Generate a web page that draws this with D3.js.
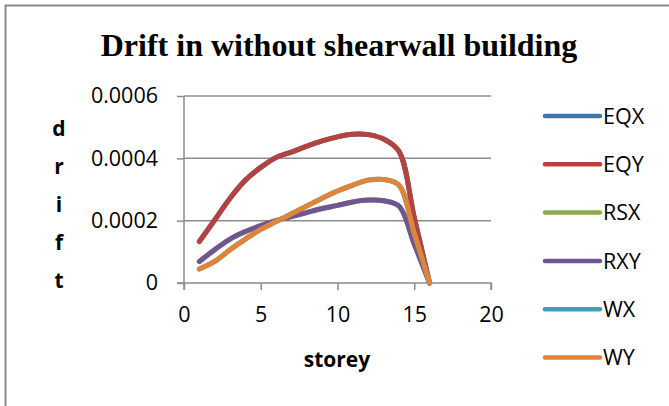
<!DOCTYPE html>
<html>
<head>
<meta charset="utf-8">
<script src="https://cdn.jsdelivr.net/npm/d3@7"></script>
<style>
  body { margin: 0; background: #fff; }
  svg { display: block; }
</style>
</head>
<body>
<svg id="chart" width="669" height="406"></svg>
<script>
// storey numbers (x values)
const storeys = [1, 2, 3, 4, 5, 6, 7, 8, 9, 10, 11, 12, 13, 14, 15, 16];

// drift values
const eqx = [0.000133, 0.000202, 0.000272, 0.00033, 0.000371, 0.000403, 0.00042, 0.000439, 0.000456, 0.000469, 0.000477, 0.000476, 0.000462, 0.000423, 0.00021, 0];
const eqy = [0.000133, 0.000202, 0.000272, 0.00033, 0.000371, 0.000403, 0.00042, 0.000439, 0.000456, 0.000469, 0.000477, 0.000476, 0.000462, 0.000423, 0.00021, 0];
const rsx = [0.000069, 0.000107, 0.000141, 0.000165, 0.000184, 0.0002, 0.000213, 0.000226, 0.000239, 0.000249, 0.00026, 0.000266, 0.000264, 0.000247, 0.000125, 0];
const rxy = [0.000069, 0.000107, 0.000141, 0.000165, 0.000184, 0.0002, 0.000213, 0.000226, 0.000239, 0.000249, 0.00026, 0.000266, 0.000264, 0.000247, 0.000125, 0];
const wx = [0.000045, 0.000069, 0.000107, 0.000141, 0.000172, 0.000197, 0.000222, 0.000247, 0.000272, 0.000295, 0.000314, 0.00033, 0.000332, 0.000314, 0.00016, 0];
const wy = [0.000045, 0.000069, 0.000107, 0.000141, 0.000172, 0.000197, 0.000222, 0.000247, 0.000272, 0.000295, 0.000314, 0.00033, 0.000332, 0.000314, 0.00016, 0];

const seriesNames = ["EQX", "EQY", "RSX", "RXY", "WX", "WY"];
const seriesValues = [eqx, eqy, rsx, rxy, wx, wy];
const seriesColors = ["#4274ad", "#b4433f", "#8ba94f", "#6f5693", "#3f9db5", "#e0843a"];

const xTicks = [0, 5, 10, 15, 20];
const yTicks = [0, 0.0002, 0.0004, 0.0006];

const svg = d3.select("#chart");

// chart frame (right and bottom edges run off the picture)
svg.append("rect")
    .attr("x", 5.5)
    .attr("y", 5.5)
    .attr("width", 700)
    .attr("height", 450)
    .attr("fill", "none")
    .attr("stroke", "#8a8a8a")
    .attr("stroke-width", 2);

const x = d3.scaleLinear().domain([0, 20]).range([184, 491]);
const y = d3.scaleLinear().domain([0, 0.0006]).range([283, 96]);

// title
svg.append("text")
    .attr("x", 339)
    .attr("y", 56)
    .attr("text-anchor", "middle")
    .style("font-family", "'Liberation Serif', 'Times New Roman', serif")
    .style("font-weight", "bold")
    .style("font-size", "32px")
    .text("Drift in without shearwall building");

// gridlines
svg.append("g")
    .selectAll("line")
    .data(yTicks.filter(d => d > 0))
    .enter().append("line")
    .attr("x1", x(0))
    .attr("x2", x(20))
    .attr("y1", d => y(d))
    .attr("y2", d => y(d))
    .attr("stroke", "#8c8c8c")
    .attr("stroke-width", 1.5);

// y axis
const yAxis = svg.append("g")
    .attr("transform", `translate(${x(0)},0)`)
    .call(d3.axisLeft(y).tickValues(yTicks).tickSize(7).tickPadding(19)
        .tickFormat(d => d === 0 ? "0" : d3.format(".4f")(d)));

// x axis
const xAxis = svg.append("g")
    .attr("transform", `translate(0,${y(0)})`)
    .call(d3.axisBottom(x).tickValues(xTicks).tickSize(7).tickPadding(17));

[yAxis, xAxis].forEach(a => {
    a.select(".domain").attr("stroke", "#8c8c8c").attr("stroke-width", 1.5);
    a.selectAll(".tick line").attr("stroke", "#8c8c8c").attr("stroke-width", 1.5);
    a.selectAll("text")
        .style("font-family", "'Open Sans', sans-serif")
        .style("font-size", "21.5px")
        .attr("fill", "#000");
});
// x axis line also runs under the left tick marks
xAxis.select(".domain").attr("d", `M${x(0) - 7},0H${x(20)}V7`);
yAxis.select(".domain").attr("d", `M0,${y(0.0006)}V${y(0) + 7}`);

// axis titles
svg.append("g")
    .selectAll("text")
    .data("drift".split(""))
    .enter().append("text")
    .attr("x", 59)
    .attr("y", (d, i) => 136 + i * 38)
    .attr("text-anchor", "middle")
    .style("font-family", "'Open Sans', sans-serif")
    .style("font-weight", "bold")
    .style("font-size", "21px")
    .text(d => d);

svg.append("text")
    .attr("x", 337)
    .attr("y", 367)
    .attr("text-anchor", "middle")
    .style("font-family", "'Open Sans', sans-serif")
    .style("font-weight", "bold")
    .style("font-size", "21px")
    .text("storey");

// lines
const line = d3.line()
    .x((d, i) => x(storeys[i]))
    .y(d => y(d))
    .curve(d3.curveCatmullRom.alpha(0.5));

svg.append("g")
    .selectAll("path")
    .data(seriesValues)
    .enter().append("path")
    .attr("d", line)
    .attr("fill", "none")
    .attr("stroke", (d, i) => seriesColors[i])
    .attr("stroke-width", 5)
    .attr("stroke-linecap", "round")
    .attr("stroke-linejoin", "round");

// legend
const legend = svg.append("g")
    .selectAll("g")
    .data(seriesNames)
    .enter().append("g")
    .attr("transform", (d, i) => `translate(545,${116 + i * 48.3})`);

legend.append("line")
    .attr("x1", 0)
    .attr("x2", 55)
    .attr("stroke", (d, i) => seriesColors[i])
    .attr("stroke-width", 4.5)
    .attr("stroke-linecap", "round");

legend.append("text")
    .attr("x", 58)
    .attr("dy", "0.36em")
    .style("font-family", "'Open Sans', sans-serif")
    .style("font-size", "21.5px")
    .text(d => d);
</script>
</body>
</html>
